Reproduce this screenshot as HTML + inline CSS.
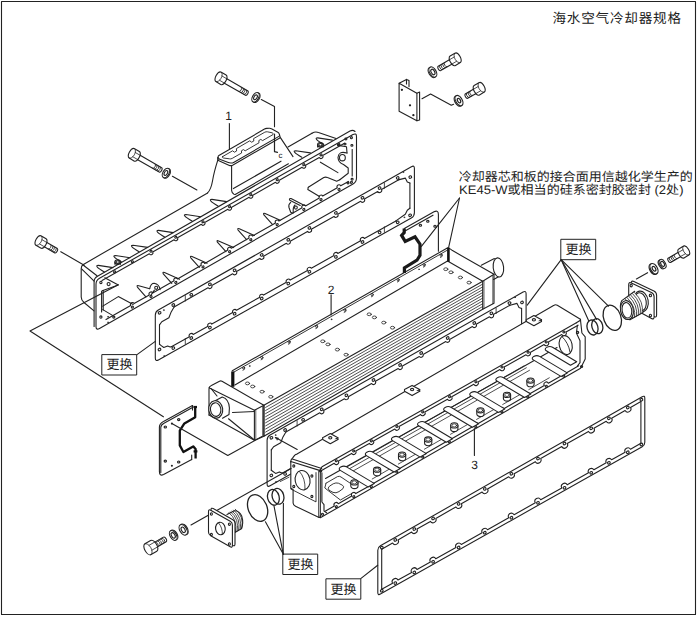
<!DOCTYPE html>
<html lang="zh"><head><meta charset="utf-8"><title>海水空气冷却器规格</title>
<style>
html,body{margin:0;padding:0;background:#fff}
svg{display:block}
text{font-family:"Liberation Sans","Noto Sans CJK SC",sans-serif;fill:#222;stroke:none;text-rendering:geometricPrecision}
</style></head><body>
<svg width="697" height="618" viewBox="0 0 697 618">
<rect width="697" height="618" fill="#fff"/>
<g fill="none" stroke="#222" stroke-width="1.1" stroke-linecap="round" stroke-linejoin="round">
<rect x="1.5" y="1.5" width="694" height="613" stroke-width="1.1"/>
<path d="M377.8 550.3Q377.8 547.3 380.4 545.8L642.2 396.7Q644.8 395.2 644.8 398.2L644.8 442.2Q644.8 445.2 642.2 446.7L380.4 594.1Q377.8 595.6 377.8 592.6Z"/>
<path d="M381.7 549.2L392.6 543A3.1 3.1 0 0 0 398 539.9L411.6 532.1A3.1 3.1 0 0 0 417 529.1L430.4 521.4A3.1 3.1 0 0 0 435.8 518.4L455.9 506.9A3.1 3.1 0 0 0 461.3 503.8L482.1 492A3.1 3.1 0 0 0 487.5 488.9L508.7 476.8A3.1 3.1 0 0 0 514.1 473.8L535.3 461.7A3.1 3.1 0 0 0 540.7 458.6L561.8 446.6A3.1 3.1 0 0 0 567.2 443.5L588.5 431.4A3.1 3.1 0 0 0 593.9 428.3L606.2 421.3A3.1 3.1 0 0 0 611.6 418.2L625.1 410.5A3.1 3.1 0 0 0 630.5 407.4L640.9 401.5"/>
<path d="M381.7 589.3L392.6 583.2A3.1 3.1 0 0 1 398 580.1L411.6 572.5A3.1 3.1 0 0 1 417 569.4L430.4 561.9A3.1 3.1 0 0 1 435.8 558.8L455.9 547.5A3.1 3.1 0 0 1 461.3 544.5L482.1 532.7A3.1 3.1 0 0 1 487.5 529.7L508.7 517.8A3.1 3.1 0 0 1 514.1 514.7L535.3 502.8A3.1 3.1 0 0 1 540.7 499.7L561.8 487.9A3.1 3.1 0 0 1 567.2 484.8L588.5 472.8A3.1 3.1 0 0 1 593.9 469.8L606.2 462.8A3.1 3.1 0 0 1 611.6 459.8L625.1 452.2A3.1 3.1 0 0 1 630.5 449.2L640.9 443.3"/>
<path d="M381.7 549.2L381.7 589.3"/>
<path d="M640.9 401.5L640.9 443.3"/>
<ellipse cx="381.8" cy="547.6" rx="1.4" ry="1.2" transform="rotate(-30 381.8 547.6)"/>
<ellipse cx="395.3" cy="539.9" rx="1.4" ry="1.2" transform="rotate(-30 395.3 539.9)"/>
<ellipse cx="414.3" cy="529.1" rx="1.4" ry="1.2" transform="rotate(-30 414.3 529.1)"/>
<ellipse cx="433.1" cy="518.4" rx="1.4" ry="1.2" transform="rotate(-30 433.1 518.4)"/>
<ellipse cx="458.6" cy="503.9" rx="1.4" ry="1.2" transform="rotate(-30 458.6 503.9)"/>
<ellipse cx="484.8" cy="488.9" rx="1.4" ry="1.2" transform="rotate(-30 484.8 488.9)"/>
<ellipse cx="511.4" cy="473.8" rx="1.4" ry="1.2" transform="rotate(-30 511.4 473.8)"/>
<ellipse cx="538" cy="458.6" rx="1.4" ry="1.2" transform="rotate(-30 538 458.6)"/>
<ellipse cx="564.5" cy="443.5" rx="1.4" ry="1.2" transform="rotate(-30 564.5 443.5)"/>
<ellipse cx="591.2" cy="428.3" rx="1.4" ry="1.2" transform="rotate(-30 591.2 428.3)"/>
<ellipse cx="608.9" cy="418.3" rx="1.4" ry="1.2" transform="rotate(-30 608.9 418.3)"/>
<ellipse cx="627.8" cy="407.5" rx="1.4" ry="1.2" transform="rotate(-30 627.8 407.5)"/>
<ellipse cx="641.4" cy="399.7" rx="1.4" ry="1.2" transform="rotate(-30 641.4 399.7)"/>
<ellipse cx="381.8" cy="590.7" rx="1.4" ry="1.2" transform="rotate(-30 381.8 590.7)"/>
<ellipse cx="395.3" cy="583.1" rx="1.4" ry="1.2" transform="rotate(-30 395.3 583.1)"/>
<ellipse cx="414.3" cy="572.4" rx="1.4" ry="1.2" transform="rotate(-30 414.3 572.4)"/>
<ellipse cx="433.1" cy="561.8" rx="1.4" ry="1.2" transform="rotate(-30 433.1 561.8)"/>
<ellipse cx="458.6" cy="547.5" rx="1.4" ry="1.2" transform="rotate(-30 458.6 547.5)"/>
<ellipse cx="484.8" cy="532.7" rx="1.4" ry="1.2" transform="rotate(-30 484.8 532.7)"/>
<ellipse cx="511.4" cy="517.7" rx="1.4" ry="1.2" transform="rotate(-30 511.4 517.7)"/>
<ellipse cx="538" cy="502.8" rx="1.4" ry="1.2" transform="rotate(-30 538 502.8)"/>
<ellipse cx="564.5" cy="487.8" rx="1.4" ry="1.2" transform="rotate(-30 564.5 487.8)"/>
<ellipse cx="591.2" cy="472.8" rx="1.4" ry="1.2" transform="rotate(-30 591.2 472.8)"/>
<ellipse cx="608.9" cy="462.8" rx="1.4" ry="1.2" transform="rotate(-30 608.9 462.8)"/>
<ellipse cx="627.8" cy="452.2" rx="1.4" ry="1.2" transform="rotate(-30 627.8 452.2)"/>
<ellipse cx="641.4" cy="444.5" rx="1.4" ry="1.2" transform="rotate(-30 641.4 444.5)"/>
<path d="M360.7 578.6L377.7 565.3"/>
<rect x="561.2" y="239.3" width="34.5" height="20.4" stroke-width="1" fill="#fff"/>
<rect x="102.2" y="354.6" width="34.5" height="20.4" stroke-width="1" fill="#fff"/>
<rect x="283.2" y="554.1" width="34.5" height="20.4" stroke-width="1" fill="#fff"/>
<rect x="326.3" y="578.8" width="34.5" height="20.4" stroke-width="1" fill="#fff"/>
<path d="M155.3 315.3Q155.3 311.8 158.3 310.1L411.4 166.7Q414.4 165 414.4 168.5L414.4 212.8Q414.4 216.3 411.3 218L158.4 359.9Q155.3 361.6 155.3 358.1Z"/>
<path d="M174.1 306.9L208 287.7A2.2 2.2 0 0 0 211.8 285.6L232.7 273.8A2.2 2.2 0 0 0 236.5 271.6L259.8 258.4A2.2 2.2 0 0 0 263.6 256.2L286.4 243.3A2.2 2.2 0 0 0 290.2 241.2L307.5 231.4A2.2 2.2 0 0 0 311.3 229.2L334 216.4A2.2 2.2 0 0 0 337.8 214.2L360.6 201.3A2.2 2.2 0 0 0 364.4 199.1L377.7 191.6A2.2 2.2 0 0 0 381.5 189.4L398.3 179.9"/>
<path d="M171.8 346.5L189.4 336.7A2.2 2.2 0 0 1 193.2 334.5L208 326.3A2.2 2.2 0 0 1 211.8 324.1L232.7 312.4A2.2 2.2 0 0 1 236.5 310.3L259.8 297.2A2.2 2.2 0 0 1 263.6 295.1L286.4 282.3A2.2 2.2 0 0 1 290.2 280.1L307.5 270.5A2.2 2.2 0 0 1 311.3 268.3L334 255.6A2.2 2.2 0 0 1 337.8 253.4L360.6 240.7A2.2 2.2 0 0 1 364.4 238.5L395.9 220.9"/>
<path d="M159.5 324.9L161.8 321.7L168.9 317.8L170.9 312.6L174.1 306.9"/>
<path d="M159.5 344.3L161.2 345.6L163.8 347.5L167.6 346L170.2 347.1L171.8 346.5"/>
<path d="M159.5 324.9L159.5 344.3"/>
<path d="M398.3 179.9L405.3 178.1L407.3 182.1L409.9 183.1"/>
<path d="M409.9 208.2L407.3 210.2L405.3 214.3L395.9 220.9"/>
<path d="M409.9 183.1L409.9 208.2"/>
<path d="M185.3 295.6L185.3 301.1" stroke-width="0.8"/>
<path d="M185.3 338.5L185.3 344" stroke-width="0.8"/>
<path d="M384.4 182.8L384.4 188.3" stroke-width="0.8"/>
<path d="M384.4 226.8L384.4 232.3" stroke-width="0.8"/>
<ellipse cx="159.6" cy="312.8" rx="1.4" ry="1.2" transform="rotate(-30 159.6 312.8)"/>
<ellipse cx="173.3" cy="305" rx="1.4" ry="1.2" transform="rotate(-30 173.3 305)"/>
<ellipse cx="191.3" cy="294.8" rx="1.4" ry="1.2" transform="rotate(-30 191.3 294.8)"/>
<ellipse cx="209.9" cy="284.3" rx="1.4" ry="1.2" transform="rotate(-30 209.9 284.3)"/>
<ellipse cx="234.6" cy="270.3" rx="1.4" ry="1.2" transform="rotate(-30 234.6 270.3)"/>
<ellipse cx="261.7" cy="254.9" rx="1.4" ry="1.2" transform="rotate(-30 261.7 254.9)"/>
<ellipse cx="288.3" cy="239.8" rx="1.4" ry="1.2" transform="rotate(-30 288.3 239.8)"/>
<ellipse cx="309.4" cy="227.9" rx="1.4" ry="1.2" transform="rotate(-30 309.4 227.9)"/>
<ellipse cx="335.9" cy="212.9" rx="1.4" ry="1.2" transform="rotate(-30 335.9 212.9)"/>
<ellipse cx="362.5" cy="197.8" rx="1.4" ry="1.2" transform="rotate(-30 362.5 197.8)"/>
<ellipse cx="379.6" cy="188.1" rx="1.4" ry="1.2" transform="rotate(-30 379.6 188.1)"/>
<ellipse cx="397.7" cy="177.9" rx="1.4" ry="1.2" transform="rotate(-30 397.7 177.9)"/>
<ellipse cx="410.3" cy="177.1" rx="1.4" ry="1.2" transform="rotate(-30 410.3 177.1)"/>
<ellipse cx="159.5" cy="349.5" rx="1.4" ry="1.2" transform="rotate(-30 159.5 349.5)"/>
<ellipse cx="173.3" cy="348.1" rx="1.4" ry="1.2" transform="rotate(-30 173.3 348.1)"/>
<ellipse cx="191.3" cy="338" rx="1.4" ry="1.2" transform="rotate(-30 191.3 338)"/>
<ellipse cx="209.9" cy="327.6" rx="1.4" ry="1.2" transform="rotate(-30 209.9 327.6)"/>
<ellipse cx="234.6" cy="313.7" rx="1.4" ry="1.2" transform="rotate(-30 234.6 313.7)"/>
<ellipse cx="261.7" cy="298.5" rx="1.4" ry="1.2" transform="rotate(-30 261.7 298.5)"/>
<ellipse cx="288.3" cy="283.6" rx="1.4" ry="1.2" transform="rotate(-30 288.3 283.6)"/>
<ellipse cx="309.4" cy="271.8" rx="1.4" ry="1.2" transform="rotate(-30 309.4 271.8)"/>
<ellipse cx="335.9" cy="256.9" rx="1.4" ry="1.2" transform="rotate(-30 335.9 256.9)"/>
<ellipse cx="362.5" cy="242" rx="1.4" ry="1.2" transform="rotate(-30 362.5 242)"/>
<ellipse cx="379.6" cy="232.4" rx="1.4" ry="1.2" transform="rotate(-30 379.6 232.4)"/>
<ellipse cx="397.7" cy="222.3" rx="1.4" ry="1.2" transform="rotate(-30 397.7 222.3)"/>
<ellipse cx="410.1" cy="215.3" rx="1.4" ry="1.2" transform="rotate(-30 410.1 215.3)"/>
<ellipse cx="163.8" cy="310.1" rx="0.5" ry="0.5" stroke-width="0.5" fill="#222"/>
<ellipse cx="164.1" cy="356" rx="0.5" ry="0.5" stroke-width="0.5" fill="#222"/>
<ellipse cx="403.3" cy="172.1" rx="0.5" ry="0.5" stroke-width="0.5" fill="#222"/>
<ellipse cx="404.3" cy="217.3" rx="0.5" ry="0.5" stroke-width="0.5" fill="#222"/>
<path d="M137 354.6L155.3 341.4"/>
<path d="M96 284.2Q96 280.2 99.5 278.2L353 134.6Q356.5 132.6 356.5 136.6L356.5 178Q356.5 182 353 184L99.5 328.5Q96 330.5 96 326.5Z"/>
<path d="M94.1 326.5L94.1 281.5Q94.1 278 97.5 276.2L350 130.9Q353 129.5 355 131.5"/>
<path d="M83.4 264.4L207.6 192.9"/>
<path d="M288 147L312 133.2"/>
<path d="M312 133.2Q315.5 131.3 318.5 132.6L336 138.6"/>
<path d="M83.4 264.4Q81.2 265.6 81.2 268.5L81.2 297Q81.2 300 84 302.5L94 310.8"/>
<path d="M83.4 265.2L97 275.8"/>
<path d="M81.6 268.8L94.1 281.2"/>
<path d="M102 280.6L149.3 253.8A1.9 1.9 0 0 0 152.7 251.9L174.1 239.7A1.9 1.9 0 0 0 177.5 237.8L201.3 224.3A1.9 1.9 0 0 0 204.7 222.4L227.9 209.2A1.9 1.9 0 0 0 231.3 207.4L249.1 197.2A1.9 1.9 0 0 0 252.5 195.4L275.5 182.3A1.9 1.9 0 0 0 278.9 180.4L302.1 167.2A1.9 1.9 0 0 0 305.5 165.3L319.3 157.5A1.9 1.9 0 0 0 322.7 155.6L344.5 143.2"/>
<ellipse cx="114.6" cy="271.9" rx="1.1" ry="0.9" transform="rotate(-30 114.6 271.9)"/>
<ellipse cx="132.4" cy="261.8" rx="1.1" ry="0.9" transform="rotate(-30 132.4 261.8)"/>
<ellipse cx="151" cy="251.2" rx="1.1" ry="0.9" transform="rotate(-30 151 251.2)"/>
<ellipse cx="175.8" cy="237.2" rx="1.1" ry="0.9" transform="rotate(-30 175.8 237.2)"/>
<ellipse cx="203" cy="221.8" rx="1.1" ry="0.9" transform="rotate(-30 203 221.8)"/>
<ellipse cx="229.6" cy="206.7" rx="1.1" ry="0.9" transform="rotate(-30 229.6 206.7)"/>
<ellipse cx="250.8" cy="194.7" rx="1.1" ry="0.9" transform="rotate(-30 250.8 194.7)"/>
<ellipse cx="277.2" cy="179.7" rx="1.1" ry="0.9" transform="rotate(-30 277.2 179.7)"/>
<ellipse cx="303.8" cy="164.7" rx="1.1" ry="0.9" transform="rotate(-30 303.8 164.7)"/>
<ellipse cx="321" cy="154.9" rx="1.1" ry="0.9" transform="rotate(-30 321 154.9)"/>
<ellipse cx="339" cy="144.7" rx="1.1" ry="0.9" transform="rotate(-30 339 144.7)"/>
<ellipse cx="351.4" cy="137.7" rx="1.1" ry="0.9" transform="rotate(-30 351.4 137.7)"/>
<ellipse cx="100.9" cy="282.4" rx="1.1" ry="1.2"/>
<ellipse cx="108.6" cy="284.1" rx="1.5" ry="1.6"/>
<ellipse cx="100.9" cy="317.1" rx="1.1" ry="1.2"/>
<ellipse cx="113.8" cy="317.1" rx="1.1" ry="1"/>
<ellipse cx="108" cy="316.8" rx="0.5" ry="0.5" stroke-width="0.5" fill="#222"/>
<ellipse cx="108" cy="322.3" rx="0.5" ry="0.5" stroke-width="0.5" fill="#222"/>
<path d="M106 319.6L130.7 305.5A1.9 1.9 0 0 1 134.1 303.6L149.3 294.9A1.9 1.9 0 0 1 152.7 293L174.1 280.8A1.9 1.9 0 0 1 177.5 278.9L201.3 265.2A1.9 1.9 0 0 1 204.7 263.4L227.9 250.1A1.9 1.9 0 0 1 231.3 248.2L249.1 238A1.9 1.9 0 0 1 252.5 236.1L275.5 222.9A1.9 1.9 0 0 1 278.9 221.1L302.1 207.8A1.9 1.9 0 0 1 305.5 205.9L319.3 198A1.9 1.9 0 0 1 322.7 196.1L337.3 187.7A1.9 1.9 0 0 1 340.7 185.8L348.5 181.4"/>
<ellipse cx="132.4" cy="307.1" rx="1.1" ry="0.9" transform="rotate(-30 132.4 307.1)"/>
<ellipse cx="151" cy="296.5" rx="1.1" ry="0.9" transform="rotate(-30 151 296.5)"/>
<ellipse cx="175.8" cy="282.4" rx="1.1" ry="0.9" transform="rotate(-30 175.8 282.4)"/>
<ellipse cx="203" cy="266.9" rx="1.1" ry="0.9" transform="rotate(-30 203 266.9)"/>
<ellipse cx="229.6" cy="251.7" rx="1.1" ry="0.9" transform="rotate(-30 229.6 251.7)"/>
<ellipse cx="250.8" cy="239.7" rx="1.1" ry="0.9" transform="rotate(-30 250.8 239.7)"/>
<ellipse cx="277.2" cy="224.6" rx="1.1" ry="0.9" transform="rotate(-30 277.2 224.6)"/>
<ellipse cx="303.8" cy="209.4" rx="1.1" ry="0.9" transform="rotate(-30 303.8 209.4)"/>
<ellipse cx="321" cy="199.6" rx="1.1" ry="0.9" transform="rotate(-30 321 199.6)"/>
<ellipse cx="339" cy="189.4" rx="1.1" ry="0.9" transform="rotate(-30 339 189.4)"/>
<ellipse cx="351.4" cy="182.3" rx="1.1" ry="0.9" transform="rotate(-30 351.4 182.3)"/>
<path d="M101.6 291.4L101.6 312"/>
<path d="M103.2 290.6L103.2 310"/>
<path d="M352.2 149.5L352.2 176"/>
<path d="M104.8 277.8L118.3 285L102.2 290.8"/>
<path d="M102.8 306.1L118.3 296.6L133.2 304.4"/>
<path d="M102.8 309.6L112.5 315.4"/>
<path d="M104.4 271.9Q93.3 265.5 98.3 265.4L113 267.6"/>
<path d="M121.5 262Q110.4 255.6 115.4 255.5L130.1 257.7"/>
<path d="M139.1 251.7Q128 245.3 133 245.2L147.7 247.4"/>
<path d="M164.6 236.9Q153.5 230.5 158.5 230.4L173.2 232.6"/>
<path d="M192 221Q180.9 214.6 185.9 214.5L200.6 216.7"/>
<path d="M218 205.9Q206.9 199.5 211.9 199.4L226.6 201.6"/>
<path d="M301.8 157.2Q290.7 150.8 295.7 150.7L310.4 152.9"/>
<path d="M323.8 144.4Q312.7 138 317.7 137.9L332.4 140.1"/>
<path d="M171.8 283.4L163.3 273.9Q162.2 271.6 164.5 272.6L179.6 279.3"/>
<path d="M199.3 267.3L190.8 257.8Q189.7 255.5 192 256.5L207.1 263.2"/>
<path d="M225.9 251.7L217.4 242.2Q216.3 239.9 218.6 240.9L233.7 247.6"/>
<path d="M246.6 239.6L238.1 230.1Q237 227.8 239.3 228.8L254.4 235.5"/>
<path d="M272.4 224.4L263.9 214.9Q262.8 212.6 265.1 213.6L280.2 220.3"/>
<path d="M145.9 296.9L137.4 287.1Q136.3 285.1 138.8 285.8L149.7 288.7"/>
<path d="M149.7 288.7Q150.8 283.3 154.2 283.3Q159.2 284.1 160.1 289.7"/>
<path d="M154.4 290.1L150.6 295.6"/>
<ellipse cx="156.2" cy="287.8" rx="1.5" ry="1.6"/>
<path d="M300.2 205.4L289.8 200.2Q288.6 198.1 291 198.6L304.5 205.4"/>
<path d="M290.7 202.4Q288.2 204.5 289 207.5L290.7 212.3L292.8 213.2"/>
<path d="M295 205Q292.6 207.5 293.3 212.7"/>
<ellipse cx="295.9" cy="207.6" rx="1.4" ry="1.6"/>
<ellipse cx="117.7" cy="262.1" rx="2.8" ry="2.3"/>
<ellipse cx="117.7" cy="262.1" rx="1.7" ry="1.3"/>
<path d="M114.9 262.1L114.9 264.3"/>
<path d="M120.5 262.1L120.5 264.3"/>
<ellipse cx="320.4" cy="144.8" rx="2.8" ry="2.3"/>
<ellipse cx="320.4" cy="144.8" rx="1.7" ry="1.3"/>
<path d="M317.6 144.8L317.6 147"/>
<path d="M323.2 144.8L323.2 147"/>
<path d="M339.8 145.6L346.5 146.8L347 153"/>
<ellipse cx="342.4" cy="157.7" rx="2.9" ry="3.2"/>
<path d="M347 153Q338.5 150.5 338 157.5Q338.2 162.5 343.5 164.5L348.2 168L348.2 173.3L339.8 179.7"/>
<path d="M320.4 162.2L337.9 172.6"/>
<path d="M308.3 187.2L323.8 177.5Q325.5 176.6 327.5 177.6L336.7 181.2L339.8 179.7"/>
<path d="M308.3 187.2L307.8 189.5L319.5 196.5"/>
<ellipse cx="345.9" cy="139" rx="1" ry="0.9"/>
<ellipse cx="338.5" cy="145" rx="1" ry="0.9"/>
<ellipse cx="345" cy="144.1" rx="1" ry="0.9"/>
<ellipse cx="351.9" cy="145.4" rx="1" ry="0.9"/>
<ellipse cx="352.1" cy="179.3" rx="1" ry="0.9"/>
<ellipse cx="348" cy="183" rx="1" ry="0.9"/>
<path d="M218.2 157.3Q217.9 156.1 218.9 155.5L264.5 129.1Q265.5 128.5 266.7 128.4L269.3 128.3Q270.5 128.2 271.5 128.8L277.8 132.2Q278.8 132.8 279.2 133.9L279.5 134.7Q279.9 135.8 278.9 136.4L233.6 162.4Q232.6 163 231.4 163L230.6 163Q229.4 163 228.3 162.6L219.7 159.3Q218.6 158.9 218.3 157.7Z"/>
<path d="M222.6 156.6L232.6 150.8L234.4 152.2L236.6 151L236.4 148.6L249.8 140.8L251.6 142.2L253.8 141L253.6 138.6L264.8 132.2Q266 131.6 267.4 131.8L272.2 132.8Q273.8 133.4 273 134.6L262.6 140.6L260.8 139.4L258.8 140.6L259 142.8L245.2 150.8L243.4 149.6L241.4 150.8L241.6 153L232.2 158.4Q230.8 159.2 229.4 158.8L223.4 158Q221.6 157.4 222.6 156.6Z" stroke-width="0.9"/>
<path d="M217.6 157.6L217.8 160.2L229.4 165.4Q231 166 232.6 165.2L280.2 137.8L279.9 135.8"/>
<path d="M218.6 158.9L218.6 160.6" stroke-width="0.7"/>
<path d="M217.8 160.2Q214 172 212.5 181Q211 189.5 207.6 192.9"/>
<path d="M231.6 165.8L231.6 190.6Q231.7 193 234 194.2L235.2 194.6L288.4 163.8"/>
<path d="M233.4 188.6L281 161.2"/>
<path d="M280.4 137.6L293 156.6"/>
<path d="M229.4 123.5L229.4 149.3"/>
<path d="M224.7 77.5L248 91A1.3 2.5 30 0 1 245.5 95.3L222.2 81.9" fill="#fff"/>
<path d="M246.4 90A1.3 2.5 30 0 1 243.9 94.4" stroke-width="0.9"/>
<path d="M244.7 89.1A1.3 2.5 30 0 1 242.2 93.4" stroke-width="0.9"/>
<path d="M243.1 88.1A1.3 2.5 30 0 1 240.6 92.5" stroke-width="0.9"/>
<path d="M241.4 87.2A1.3 2.5 30 0 1 238.9 91.5" stroke-width="0.9"/>
<path d="M221.3 72.2L226.1 75A2.8 5.4 30 0 1 220.7 84.4L215.9 81.6A2.8 5.4 30 0 1 221.3 72.2Z" fill="#fff"/>
<path d="M221.3 72.2A2.8 5.4 30 0 1 215.9 81.6" stroke-width="0.8"/>
<path d="M222 76L226.8 78.8" stroke-width="0.8"/>
<path d="M219.6 80.3L224.4 83.1" stroke-width="0.8"/>
<ellipse cx="256.4" cy="97.8" rx="3" ry="5.2" fill="#fff" transform="rotate(30 256.4 97.8)"/>
<ellipse cx="255.5" cy="97.3" rx="3" ry="5.2" fill="#fff" transform="rotate(30 255.5 97.3)"/>
<ellipse cx="255.5" cy="97.3" rx="1.5" ry="2.6" transform="rotate(30 255.5 97.3)"/>
<path d="M261.3 99.6L274.5 106.5L274.5 126.8"/>
<path d="M274.5 134L274.5 151.7L277.5 152.4" stroke-width="1.2"/>
<path d="M138 154L161.7 167.7A1.3 2.5 30 0 1 159.2 172.1L135.5 158.4" fill="#fff"/>
<path d="M160.1 166.8A1.3 2.5 30 0 1 157.6 171.1" stroke-width="0.9"/>
<path d="M158.4 165.8A1.3 2.5 30 0 1 155.9 170.2" stroke-width="0.9"/>
<path d="M156.8 164.9A1.3 2.5 30 0 1 154.3 169.2" stroke-width="0.9"/>
<path d="M155.1 163.9A1.3 2.5 30 0 1 152.6 168.3" stroke-width="0.9"/>
<path d="M134.6 148.7L139.4 151.5A2.8 5.4 30 0 1 134 160.9L129.2 158.1A2.8 5.4 30 0 1 134.6 148.7Z" fill="#fff"/>
<path d="M134.6 148.7A2.8 5.4 30 0 1 129.2 158.1" stroke-width="0.8"/>
<path d="M135.3 152.5L140.1 155.3" stroke-width="0.8"/>
<path d="M132.9 156.8L137.7 159.6" stroke-width="0.8"/>
<ellipse cx="166.8" cy="173.5" rx="3" ry="5.2" fill="#fff" transform="rotate(30 166.8 173.5)"/>
<ellipse cx="165.9" cy="173" rx="3" ry="5.2" fill="#fff" transform="rotate(30 165.9 173)"/>
<ellipse cx="165.9" cy="173" rx="1.5" ry="2.6" transform="rotate(30 165.9 173)"/>
<path d="M172.4 176.3L196.9 190"/>
<path d="M44.7 241.2L57.4 248.6A1.3 2.5 30 0 1 54.9 252.9L42.2 245.6" fill="#fff"/>
<path d="M55.8 247.6A1.3 2.5 30 0 1 53.3 252" stroke-width="0.9"/>
<path d="M54.1 246.7A1.3 2.5 30 0 1 51.6 251" stroke-width="0.9"/>
<path d="M52.5 245.7A1.3 2.5 30 0 1 50 250.1" stroke-width="0.9"/>
<path d="M50.8 244.8A1.3 2.5 30 0 1 48.3 249.1" stroke-width="0.9"/>
<path d="M41.3 235.9L46.1 238.7A2.8 5.4 30 0 1 40.7 248.1L35.9 245.3A2.8 5.4 30 0 1 41.3 235.9Z" fill="#fff"/>
<path d="M41.3 235.9A2.8 5.4 30 0 1 35.9 245.3" stroke-width="0.8"/>
<path d="M42 239.7L46.8 242.5" stroke-width="0.8"/>
<path d="M39.6 244L44.4 246.8" stroke-width="0.8"/>
<path d="M60.8 251.7L84.2 265.2"/>
<path d="M454 62.9L440.7 70.6A1.3 2.5 150 0 1 438.2 66.2L451.5 58.5" fill="#fff"/>
<path d="M442.3 69.6A1.3 2.5 150 0 1 439.8 65.3" stroke-width="0.9"/>
<path d="M444 68.7A1.3 2.5 150 0 1 441.5 64.3" stroke-width="0.9"/>
<path d="M445.6 67.7A1.3 2.5 150 0 1 443.1 63.4" stroke-width="0.9"/>
<path d="M447.2 66.8A1.3 2.5 150 0 1 444.7 62.4" stroke-width="0.9"/>
<path d="M460.3 62.6L455.5 65.4A2.8 5.4 150 0 1 450.1 56L454.9 53.2A2.8 5.4 150 0 1 460.3 62.6Z" fill="#fff"/>
<path d="M460.3 62.6A2.8 5.4 150 0 1 454.9 53.2" stroke-width="0.8"/>
<path d="M456.6 61.3L451.8 64.1" stroke-width="0.8"/>
<path d="M454.2 57L449.4 59.8" stroke-width="0.8"/>
<ellipse cx="432" cy="72.5" rx="3.2" ry="5.6" fill="#fff" transform="rotate(150 432 72.5)"/>
<ellipse cx="432.9" cy="72" rx="3.2" ry="5.6" fill="#fff" transform="rotate(150 432.9 72)"/>
<ellipse cx="432.9" cy="72" rx="1.7" ry="3" transform="rotate(150 432.9 72)"/>
<path d="M478 92.4L467.7 98.3A1.3 2.5 150 0 1 465.2 94L475.5 88" fill="#fff"/>
<path d="M469.3 97.4A1.3 2.5 150 0 1 466.8 93" stroke-width="0.9"/>
<path d="M471 96.4A1.3 2.5 150 0 1 468.5 92.1" stroke-width="0.9"/>
<path d="M472.6 95.5A1.3 2.5 150 0 1 470.1 91.1" stroke-width="0.9"/>
<path d="M484.3 92.1L479.5 94.9A2.8 5.4 150 0 1 474.1 85.5L478.9 82.7A2.8 5.4 150 0 1 484.3 92.1Z" fill="#fff"/>
<path d="M484.3 92.1A2.8 5.4 150 0 1 478.9 82.7" stroke-width="0.8"/>
<path d="M480.6 90.8L475.8 93.6" stroke-width="0.8"/>
<path d="M478.2 86.5L473.4 89.3" stroke-width="0.8"/>
<ellipse cx="458.1" cy="101.1" rx="3.2" ry="5.6" stroke-width="1.2" fill="#fff" transform="rotate(150 458.1 101.1)"/>
<ellipse cx="459" cy="100.6" rx="3.2" ry="5.6" stroke-width="1.2" fill="#fff" transform="rotate(150 459 100.6)"/>
<ellipse cx="459" cy="100.6" rx="1.4" ry="2.4" stroke-width="1.2" transform="rotate(150 459 100.6)"/>
<path d="M152.4 543.6L163.5 537.1A1.4 2.7 -30 0 1 166.2 541.8L155.1 548.2" fill="#fff"/>
<path d="M161.9 538.1A1.4 2.7 -30 0 1 164.6 542.7" stroke-width="0.9"/>
<path d="M160.2 539A1.4 2.7 -30 0 1 162.9 543.7" stroke-width="0.9"/>
<path d="M158.6 540A1.4 2.7 -30 0 1 161.3 544.6" stroke-width="0.9"/>
<path d="M157 540.9A1.4 2.7 -30 0 1 159.7 545.6" stroke-width="0.9"/>
<path d="M155.3 541.9A1.4 2.7 -30 0 1 158 546.5" stroke-width="0.9"/>
<path d="M144.9 543.8L150.6 540.5A3.2 6.2 -30 0 1 156.8 551.3L151.1 554.6A3.2 6.2 -30 0 1 144.9 543.8Z" fill="#fff"/>
<path d="M144.9 543.8A3.2 6.2 -30 0 1 151.1 554.6" stroke-width="0.8"/>
<path d="M149.1 545.3L154.8 542" stroke-width="0.8"/>
<path d="M151.9 550.2L157.6 546.9" stroke-width="0.8"/>
<ellipse cx="174.1" cy="534.9" rx="3.1" ry="5.4" fill="#fff" transform="rotate(-30 174.1 534.9)"/>
<ellipse cx="173.2" cy="535.4" rx="3.1" ry="5.4" fill="#fff" transform="rotate(-30 173.2 535.4)"/>
<ellipse cx="173.2" cy="535.4" rx="1.7" ry="3" transform="rotate(-30 173.2 535.4)"/>
<ellipse cx="184.1" cy="529.3" rx="3.4" ry="5.8" stroke-width="1.1" fill="#fff" transform="rotate(-30 184.1 529.3)"/>
<ellipse cx="183.2" cy="529.8" rx="3.4" ry="5.8" stroke-width="1.1" fill="#fff" transform="rotate(-30 183.2 529.8)"/>
<ellipse cx="183.2" cy="529.8" rx="1.7" ry="3" stroke-width="1.1" transform="rotate(-30 183.2 529.8)"/>
<path d="M191 524.9L210.5 513.9"/>
<path d="M682.6 255.6L670.6 262.5A1.3 2.5 150 0 1 668.1 258.2L680.1 251.2" fill="#fff"/>
<path d="M672.2 261.6A1.3 2.5 150 0 1 669.7 257.2" stroke-width="0.9"/>
<path d="M673.9 260.6A1.3 2.5 150 0 1 671.4 256.3" stroke-width="0.9"/>
<path d="M675.5 259.7A1.3 2.5 150 0 1 673 255.3" stroke-width="0.9"/>
<path d="M677.1 258.7A1.3 2.5 150 0 1 674.6 254.4" stroke-width="0.9"/>
<path d="M688.8 255.1L684 257.9A2.7 5.2 150 0 1 678.8 248.9L683.6 246.1A2.7 5.2 150 0 1 688.8 255.1Z" fill="#fff"/>
<path d="M688.8 255.1A2.7 5.2 150 0 1 683.6 246.1" stroke-width="0.8"/>
<path d="M685.3 253.8L680.4 256.6" stroke-width="0.8"/>
<path d="M682.9 249.8L678.1 252.6" stroke-width="0.8"/>
<ellipse cx="661.7" cy="264.4" rx="2.8" ry="4.9" fill="#fff" transform="rotate(150 661.7 264.4)"/>
<ellipse cx="662.6" cy="263.9" rx="2.8" ry="4.9" fill="#fff" transform="rotate(150 662.6 263.9)"/>
<ellipse cx="662.6" cy="263.9" rx="1.6" ry="2.7" transform="rotate(150 662.6 263.9)"/>
<ellipse cx="653.1" cy="269.2" rx="3.3" ry="5.7" stroke-width="1.2" fill="#fff" transform="rotate(150 653.1 269.2)"/>
<ellipse cx="654" cy="268.7" rx="3.3" ry="5.7" stroke-width="1.2" fill="#fff" transform="rotate(150 654 268.7)"/>
<ellipse cx="654" cy="268.7" rx="1.5" ry="2.6" stroke-width="1.2" transform="rotate(150 654 268.7)"/>
<path d="M647.6 272.7L636.4 279"/>
<path d="M267.1 440.3Q267.1 436.8 270.1 435.1L523.1 292Q526.1 290.3 526.1 293.8L526.1 337.5Q526.1 341 523.1 342.7L270.1 485.8Q267.1 487.5 267.1 484Z"/>
<path d="M285.9 432L319.8 412.8A2.2 2.2 0 0 0 323.6 410.6L344.5 398.8A2.2 2.2 0 0 0 348.3 396.7L371.6 383.5A2.2 2.2 0 0 0 375.4 381.3L398.2 368.5A2.2 2.2 0 0 0 402 366.3L419.3 356.5A2.2 2.2 0 0 0 423.1 354.4L445.8 341.5A2.2 2.2 0 0 0 449.6 339.4L472.4 326.5A2.2 2.2 0 0 0 476.2 324.3L489.5 316.8A2.2 2.2 0 0 0 493.3 314.6L510 305.2"/>
<path d="M283.6 472.4L301.2 462.4A2.2 2.2 0 0 1 305 460.3L319.8 451.9A2.2 2.2 0 0 1 323.6 449.7L344.5 437.9A2.2 2.2 0 0 1 348.3 435.8L371.6 422.6A2.2 2.2 0 0 1 375.4 420.4L398.2 407.6A2.2 2.2 0 0 1 402 405.4L419.3 395.6A2.2 2.2 0 0 1 423.1 393.5L445.8 380.6A2.2 2.2 0 0 1 449.6 378.5L472.4 365.6A2.2 2.2 0 0 1 476.2 363.4L507.6 345.7"/>
<path d="M271.3 449.9L273.6 446.7L280.7 442.8L282.7 437.6L285.9 432"/>
<path d="M271.3 470.2L273 471.5L275.6 473.4L279.4 471.9L282 473L283.6 472.4"/>
<path d="M271.3 449.9L271.3 470.2"/>
<path d="M510 305.2L517 303.4L519 307.4L521.6 308.4"/>
<path d="M521.6 332.9L519 334.9L517 339L507.6 345.7"/>
<path d="M521.6 308.4L521.6 332.9"/>
<path d="M297.1 420.6L297.1 426.1" stroke-width="0.8"/>
<path d="M297.1 464.2L297.1 469.7" stroke-width="0.8"/>
<path d="M496.1 308.1L496.1 313.6" stroke-width="0.8"/>
<path d="M496.1 351.7L496.1 357.2" stroke-width="0.8"/>
<ellipse cx="271.4" cy="437.8" rx="1.4" ry="1.2" transform="rotate(-30 271.4 437.8)"/>
<ellipse cx="285.1" cy="430" rx="1.4" ry="1.2" transform="rotate(-30 285.1 430)"/>
<ellipse cx="303.1" cy="419.8" rx="1.4" ry="1.2" transform="rotate(-30 303.1 419.8)"/>
<ellipse cx="321.7" cy="409.3" rx="1.4" ry="1.2" transform="rotate(-30 321.7 409.3)"/>
<ellipse cx="346.4" cy="395.3" rx="1.4" ry="1.2" transform="rotate(-30 346.4 395.3)"/>
<ellipse cx="373.5" cy="380" rx="1.4" ry="1.2" transform="rotate(-30 373.5 380)"/>
<ellipse cx="400.1" cy="365" rx="1.4" ry="1.2" transform="rotate(-30 400.1 365)"/>
<ellipse cx="421.2" cy="353" rx="1.4" ry="1.2" transform="rotate(-30 421.2 353)"/>
<ellipse cx="447.7" cy="338" rx="1.4" ry="1.2" transform="rotate(-30 447.7 338)"/>
<ellipse cx="474.3" cy="323" rx="1.4" ry="1.2" transform="rotate(-30 474.3 323)"/>
<ellipse cx="491.4" cy="313.3" rx="1.4" ry="1.2" transform="rotate(-30 491.4 313.3)"/>
<ellipse cx="509.5" cy="303.1" rx="1.4" ry="1.2" transform="rotate(-30 509.5 303.1)"/>
<ellipse cx="522" cy="302.4" rx="1.4" ry="1.2" transform="rotate(-30 522 302.4)"/>
<ellipse cx="271.3" cy="475.4" rx="1.4" ry="1.2" transform="rotate(-30 271.3 475.4)"/>
<ellipse cx="285.1" cy="473.9" rx="1.4" ry="1.2" transform="rotate(-30 285.1 473.9)"/>
<ellipse cx="303.1" cy="463.7" rx="1.4" ry="1.2" transform="rotate(-30 303.1 463.7)"/>
<ellipse cx="321.7" cy="453.2" rx="1.4" ry="1.2" transform="rotate(-30 321.7 453.2)"/>
<ellipse cx="346.4" cy="439.2" rx="1.4" ry="1.2" transform="rotate(-30 346.4 439.2)"/>
<ellipse cx="373.5" cy="423.9" rx="1.4" ry="1.2" transform="rotate(-30 373.5 423.9)"/>
<ellipse cx="400.1" cy="408.9" rx="1.4" ry="1.2" transform="rotate(-30 400.1 408.9)"/>
<ellipse cx="421.2" cy="396.9" rx="1.4" ry="1.2" transform="rotate(-30 421.2 396.9)"/>
<ellipse cx="447.7" cy="381.9" rx="1.4" ry="1.2" transform="rotate(-30 447.7 381.9)"/>
<ellipse cx="474.3" cy="366.9" rx="1.4" ry="1.2" transform="rotate(-30 474.3 366.9)"/>
<ellipse cx="491.4" cy="357.2" rx="1.4" ry="1.2" transform="rotate(-30 491.4 357.2)"/>
<ellipse cx="509.5" cy="347" rx="1.4" ry="1.2" transform="rotate(-30 509.5 347)"/>
<ellipse cx="521.9" cy="340" rx="1.4" ry="1.2" transform="rotate(-30 521.9 340)"/>
<ellipse cx="275.6" cy="435.1" rx="0.5" ry="0.5" stroke-width="0.5" fill="#222"/>
<ellipse cx="275.9" cy="481.9" rx="0.5" ry="0.5" stroke-width="0.5" fill="#222"/>
<ellipse cx="515" cy="297.4" rx="0.5" ry="0.5" stroke-width="0.5" fill="#222"/>
<ellipse cx="516" cy="342" rx="0.5" ry="0.5" stroke-width="0.5" fill="#222"/>
<path d="M221.3 380.3L234.9 384.9L448.4 260.5L451.8 250.2L494 274.3L482.7 281.3L263.9 405.3Z" fill="#fff" stroke="none"/>
<path d="M234.9 384.9L448.4 260.5"/>
<path d="M263.9 405.3L482.7 281.3L482.7 309.3L263.9 436.2Z" fill="#fff"/>
<path d="M265.6 407.4L482.7 284.1" stroke-width="0.8"/>
<path d="M265.6 410.5L482.7 286.9" stroke-width="0.8"/>
<path d="M265.6 413.6L482.7 289.7" stroke-width="0.8"/>
<path d="M265.6 416.7L482.7 292.5" stroke-width="0.8"/>
<path d="M265.6 419.8L482.7 295.3" stroke-width="0.8"/>
<path d="M265.6 422.8L482.7 298.1" stroke-width="0.8"/>
<path d="M265.6 425.9L482.7 300.9" stroke-width="0.8"/>
<path d="M265.6 429L482.7 303.7" stroke-width="0.8"/>
<path d="M265.6 432.1L482.7 306.5" stroke-width="0.8"/>
<path d="M232.3 370.7L447.3 248"/>
<path d="M233.4 372.4L447.3 250.2" stroke-width="0.9"/>
<ellipse cx="243.5" cy="367.9" rx="1.1" ry="1" stroke-width="0.8" transform="rotate(-30 243.5 367.9)"/>
<path d="M244.9 368.1Q244.9 370.1 242.9 370.3" stroke-width="0.8"/>
<ellipse cx="261.7" cy="357.5" rx="1.1" ry="1" stroke-width="0.8" transform="rotate(-30 261.7 357.5)"/>
<path d="M263.1 357.7Q263.1 359.7 261.1 359.9" stroke-width="0.8"/>
<ellipse cx="289" cy="341.9" rx="1.1" ry="1" stroke-width="0.8" transform="rotate(-30 289 341.9)"/>
<path d="M290.4 342.1Q290.4 344.1 288.4 344.3" stroke-width="0.8"/>
<ellipse cx="316.4" cy="326.3" rx="1.1" ry="1" stroke-width="0.8" transform="rotate(-30 316.4 326.3)"/>
<path d="M317.8 326.5Q317.8 328.5 315.8 328.7" stroke-width="0.8"/>
<ellipse cx="344.8" cy="310.1" rx="1.1" ry="1" stroke-width="0.8" transform="rotate(-30 344.8 310.1)"/>
<path d="M346.2 310.3Q346.2 312.3 344.2 312.5" stroke-width="0.8"/>
<ellipse cx="372" cy="294.5" rx="1.1" ry="1" stroke-width="0.8" transform="rotate(-30 372 294.5)"/>
<path d="M373.4 294.7Q373.4 296.7 371.4 296.9" stroke-width="0.8"/>
<ellipse cx="398" cy="279.7" rx="1.1" ry="1" stroke-width="0.8" transform="rotate(-30 398 279.7)"/>
<path d="M399.4 279.9Q399.4 281.9 397.4 282.1" stroke-width="0.8"/>
<ellipse cx="424" cy="264.8" rx="1.1" ry="1" stroke-width="0.8" transform="rotate(-30 424 264.8)"/>
<path d="M425.4 265Q425.4 267 423.4 267.2" stroke-width="0.8"/>
<ellipse cx="441" cy="255.1" rx="1.1" ry="1" stroke-width="0.8" transform="rotate(-30 441 255.1)"/>
<path d="M442.4 255.3Q442.4 257.3 440.4 257.5" stroke-width="0.8"/>
<ellipse cx="249.7" cy="366" rx="0.5" ry="0.5" stroke-width="0.5" fill="#222"/>
<ellipse cx="331.5" cy="319.3" rx="0.5" ry="0.5" stroke-width="0.5" fill="#222"/>
<ellipse cx="419" cy="269.3" rx="0.5" ry="0.5" stroke-width="0.5" fill="#222"/>
<ellipse cx="247.5" cy="383.4" rx="2.1" ry="1.4" stroke-width="0.8"/>
<ellipse cx="252.7" cy="386.5" rx="2.1" ry="1.4" stroke-width="0.8"/>
<ellipse cx="262.1" cy="391.7" rx="2.1" ry="1.4" stroke-width="0.8"/>
<ellipse cx="270.8" cy="396.8" rx="2.1" ry="1.4" stroke-width="0.8"/>
<ellipse cx="322.8" cy="341.3" rx="2.1" ry="1.4" stroke-width="0.8"/>
<ellipse cx="328" cy="344.4" rx="2.1" ry="1.4" stroke-width="0.8"/>
<ellipse cx="337.4" cy="349.6" rx="2.1" ry="1.4" stroke-width="0.8"/>
<ellipse cx="346.1" cy="354.7" rx="2.1" ry="1.4" stroke-width="0.8"/>
<ellipse cx="369.2" cy="314.3" rx="2.1" ry="1.4" stroke-width="0.8"/>
<ellipse cx="374.4" cy="317.4" rx="2.1" ry="1.4" stroke-width="0.8"/>
<ellipse cx="383.8" cy="322.6" rx="2.1" ry="1.4" stroke-width="0.8"/>
<ellipse cx="392.5" cy="327.7" rx="2.1" ry="1.4" stroke-width="0.8"/>
<ellipse cx="445.8" cy="269.2" rx="2.1" ry="1.4" stroke-width="0.8"/>
<ellipse cx="451" cy="272.3" rx="2.1" ry="1.4" stroke-width="0.8"/>
<ellipse cx="460.4" cy="277.5" rx="2.1" ry="1.4" stroke-width="0.8"/>
<ellipse cx="469.1" cy="282.6" rx="2.1" ry="1.4" stroke-width="0.8"/>
<path d="M209 387.8L254.4 410.3L254.4 440.2L209 415"/>
<path d="M209 415L209 389Q209 386.5 211.4 385.6L219.5 381.2Q220.8 380.6 222 381.3L263.9 405.3L263.9 436.2L254.4 440.4"/>
<path d="M254.4 410.3L263.9 405.3"/>
<path d="M255.8 410.2L255.8 439.6" stroke-width="0.7"/>
<path d="M262.6 406.2L262.6 436.6" stroke-width="0.7"/>
<path d="M211 388.5L217 396"/>
<path d="M254.4 411.5L232.5 412.5"/>
<path d="M254.4 440L228.5 418.8"/>
<path d="M212 416.5L214 416"/>
<path d="M215.7 400.6L222.2 397Q229 399 229.4 408L229 414.5L222.5 418.2" fill="#fff"/>
<ellipse cx="215.7" cy="409.4" rx="7" ry="8.8" fill="#fff" transform="rotate(-8 215.7 409.4)"/>
<ellipse cx="215.7" cy="409.6" rx="5.2" ry="6.8" transform="rotate(-8 215.7 409.6)"/>
<path d="M482.7 309.3L494 303.3L494 274.4"/>
<path d="M484 281.2L484 308.6" stroke-width="0.7"/>
<path d="M492.8 275.6L492.8 303.6" stroke-width="0.7"/>
<path d="M448.4 261.5L482.7 281.3"/>
<path d="M447.3 248Q450.5 248.4 452.5 250.6L494 274.3L482.7 281.3"/>
<path d="M481.3 265.2L494.4 258.6"/>
<path d="M493.6 279.4L502.5 274.6"/>
<ellipse cx="498.4" cy="267.4" rx="5.2" ry="9.6" fill="#fff" transform="rotate(-6 498.4 267.4)"/>
<path d="M331.1 294.8L331.1 314.9"/>
<path d="M404.3 228.6L434 211.8Q438.4 209.6 438.4 214.5L438.4 251.2"/>
<path d="M405 231L433 215.2"/>
<ellipse cx="420.4" cy="225.3" rx="1.2" ry="1"/>
<ellipse cx="427.8" cy="221.3" rx="1.2" ry="1"/>
<ellipse cx="435" cy="226.3" rx="1.2" ry="1"/>
<path d="M404.2 228.4L404.2 232.6L401.6 235.4L405.2 241.4L415 236.8L420 244.2L420 255.2L417 260.2L404.4 267.8L404.4 273" stroke="#1a1a1a" stroke-width="3.2" stroke-linejoin="miter" stroke-linecap="butt"/>
<path d="M448.4 247.6L448.4 261.8" stroke="#111" stroke-width="2.6" stroke-linejoin="round" stroke-linecap="butt"/>
<path d="M459.5 198L436.5 227.2"/>
<path d="M436.5 227.2L421.4 246.4"/>
<path d="M459.5 198L448.6 247.6"/>
<path d="M192.5 405.6L163.5 421.5Q159.4 423.6 159.4 427L159.4 471.5Q159.4 476.5 163.6 474.6L191.7 459.6"/>
<path d="M160.8 472.6L160.8 427.5Q160.8 424.8 164 423.2L192.5 407.6"/>
<ellipse cx="165.3" cy="427" rx="1.2" ry="1"/>
<ellipse cx="178.7" cy="419.6" rx="1.2" ry="1"/>
<ellipse cx="165.3" cy="461.1" rx="1.2" ry="1"/>
<ellipse cx="178.7" cy="462" rx="1.2" ry="1"/>
<ellipse cx="171.9" cy="423.6" rx="0.5" ry="0.5"/>
<ellipse cx="171.9" cy="465.8" rx="0.5" ry="0.5"/>
<path d="M192.5 405.6L192.5 410"/>
<path d="M191.7 459.6L191.7 455"/>
<path d="M195.2 406.2L195.2 417.2L184.4 423.4L179.8 430.6L179.8 445.4L183.4 452L193.2 446.4L195.6 449L195.6 458.5" stroke="#111" stroke-width="2.3" stroke-linejoin="round" stroke-linecap="butt"/>
<path d="M193.4 407L197 407" stroke="#111" stroke-width="2.2" stroke-linejoin="round" stroke-linecap="butt"/>
<path d="M193.6 451.4L197.4 451.4" stroke="#111" stroke-width="2.2" stroke-linejoin="round" stroke-linecap="butt"/>
<path d="M171.9 423.6L227.8 455.4L262 436.5"/>
<path d="M232.8 371.4L232.8 386.8" stroke="#111" stroke-width="3.2" stroke-linejoin="round" stroke-linecap="butt"/>
<path d="M118.3 284.8L30 331L163.4 416.8"/>
<path d="M290.8 461.5L295.8 454.8L555.3 304.5L580.4 319.2L581.9 333L585.2 336.8L585.2 359L580.6 368.2L320.3 517.8L293.1 504.4L293.1 489L290.8 488Z" fill="#fff" stroke="none"/>
<path d="M290.8 462L290.8 461Q291 459.5 292.5 458.2L294.6 455.4Q295.6 454.3 297 454.1L554 305.2Q555.6 304.2 557.3 305.2L580.4 319.2"/>
<path d="M290.8 461.5L290.8 488.2L293.1 489.4L293.1 503Q293.1 505 295.5 506.2L318 517Q320.3 518.4 320.3 515.5"/>
<path d="M290.8 461.5L320.3 470.6L320.3 516"/>
<path d="M292.3 459L321.8 468.4"/>
<ellipse cx="302.6" cy="480.2" rx="7.4" ry="9.8" transform="rotate(-10 302.6 480.2)"/>
<path d="M299.5 471.5Q305.5 478 305 489.2" stroke-width="0.8"/>
<path d="M290.8 489L316 501.9L316 472.6" stroke-width="0.9"/>
<path d="M318.6 471L318.6 516.6" stroke-width="0.8"/>
<path d="M326 483.2L337.5 476.6Q339.5 475.8 341 477L352 484.4" stroke-width="0.9"/>
<path d="M329.2 486.4Q327 488 329 490.2L333 492.4Q336 493.6 339 491.6L343 488.6Q344.6 486.6 342.4 485.2L338.4 483.2Q336 482.4 333.6 483.6Z" stroke-width="0.9"/>
<path d="M326 483.2L324.8 488L340.4 500L351.6 493.6" stroke-width="0.9"/>
<ellipse cx="293.8" cy="466" rx="1" ry="1.1"/>
<ellipse cx="311.9" cy="476" rx="1" ry="1.1"/>
<ellipse cx="293.8" cy="486.5" rx="1" ry="1.1"/>
<ellipse cx="311.9" cy="496.5" rx="1" ry="1.1"/>
<path d="M320.3 516L320.3 517.8L580.6 368.2L585.2 359L585.2 336.8L581.9 333L580.4 319.2"/>
<path d="M320 470.2L322 466.8L576.4 322.8"/>
<path d="M322 470.2L334.2 463.3A2.4 2.4 0 0 0 338.4 460.9L351.6 453.4A2.4 2.4 0 0 0 355.8 451.1L369.3 443.4A2.4 2.4 0 0 0 373.5 441.1L394.8 429A2.4 2.4 0 0 0 399 426.6L420.6 414.4A2.4 2.4 0 0 0 424.8 412L447.5 399.2A2.4 2.4 0 0 0 451.7 396.8L473.8 384.3A2.4 2.4 0 0 0 478 381.9L499.9 369.5A2.4 2.4 0 0 0 504.1 367.1L526 354.7A2.4 2.4 0 0 0 530.2 352.4L544.1 344.5A2.4 2.4 0 0 0 548.3 342.1L561.8 334.5A2.4 2.4 0 0 0 566 332.1L578.1 325.2"/>
<ellipse cx="336.3" cy="460.8" rx="1.1" ry="0.9" transform="rotate(-30 336.3 460.8)"/>
<ellipse cx="353.7" cy="451" rx="1.1" ry="0.9" transform="rotate(-30 353.7 451)"/>
<ellipse cx="371.4" cy="440.9" rx="1.1" ry="0.9" transform="rotate(-30 371.4 440.9)"/>
<ellipse cx="396.9" cy="426.5" rx="1.1" ry="0.9" transform="rotate(-30 396.9 426.5)"/>
<ellipse cx="422.7" cy="411.9" rx="1.1" ry="0.9" transform="rotate(-30 422.7 411.9)"/>
<ellipse cx="449.6" cy="396.7" rx="1.1" ry="0.9" transform="rotate(-30 449.6 396.7)"/>
<ellipse cx="475.9" cy="381.8" rx="1.1" ry="0.9" transform="rotate(-30 475.9 381.8)"/>
<ellipse cx="502" cy="367" rx="1.1" ry="0.9" transform="rotate(-30 502 367)"/>
<ellipse cx="528.1" cy="352.2" rx="1.1" ry="0.9" transform="rotate(-30 528.1 352.2)"/>
<ellipse cx="546.2" cy="342" rx="1.1" ry="0.9" transform="rotate(-30 546.2 342)"/>
<ellipse cx="563.9" cy="332" rx="1.1" ry="0.9" transform="rotate(-30 563.9 332)"/>
<path d="M325.5 478.5L557 347.6"/>
<path d="M325.5 511L334.3 506A2.3 2.3 0 0 1 338.3 503.7L351.8 495.9A2.3 2.3 0 0 1 355.8 493.6L369.3 485.9A2.3 2.3 0 0 1 373.3 483.6L394.8 471.3A2.3 2.3 0 0 1 398.8 469L420.8 456.3A2.3 2.3 0 0 1 424.8 454.1L447.3 441.1A2.3 2.3 0 0 1 451.3 438.9L473.8 425.9A2.3 2.3 0 0 1 477.8 423.7L499.8 411A2.3 2.3 0 0 1 503.8 408.7L525.8 396.1A2.3 2.3 0 0 1 529.8 393.8L544.3 385.5A2.3 2.3 0 0 1 548.3 383.2L561.8 375.5A2.3 2.3 0 0 1 565.8 373.2L578.7 365.8"/>
<ellipse cx="336.3" cy="506.7" rx="1.1" ry="0.9" transform="rotate(-30 336.3 506.7)"/>
<ellipse cx="353.8" cy="496.7" rx="1.1" ry="0.9" transform="rotate(-30 353.8 496.7)"/>
<ellipse cx="371.3" cy="486.6" rx="1.1" ry="0.9" transform="rotate(-30 371.3 486.6)"/>
<ellipse cx="396.8" cy="472" rx="1.1" ry="0.9" transform="rotate(-30 396.8 472)"/>
<ellipse cx="422.8" cy="457.1" rx="1.1" ry="0.9" transform="rotate(-30 422.8 457.1)"/>
<ellipse cx="449.3" cy="441.9" rx="1.1" ry="0.9" transform="rotate(-30 449.3 441.9)"/>
<ellipse cx="475.8" cy="426.7" rx="1.1" ry="0.9" transform="rotate(-30 475.8 426.7)"/>
<ellipse cx="501.8" cy="411.8" rx="1.1" ry="0.9" transform="rotate(-30 501.8 411.8)"/>
<ellipse cx="527.8" cy="396.9" rx="1.1" ry="0.9" transform="rotate(-30 527.8 396.9)"/>
<ellipse cx="546.3" cy="386.3" rx="1.1" ry="0.9" transform="rotate(-30 546.3 386.3)"/>
<ellipse cx="563.8" cy="376.2" rx="1.1" ry="0.9" transform="rotate(-30 563.8 376.2)"/>
<path d="M321.9 472.8L321.9 502L324 504.6L324 511L326.6 512.8"/>
<path d="M577.4 325.2L576.4 333L580 340.7L580 362.7L577.4 366"/>
<path d="M576.4 322.8Q580 320.6 580.6 320"/>
<ellipse cx="577.6" cy="332.4" rx="1.1" ry="1"/>
<ellipse cx="581.6" cy="366.5" rx="1.1" ry="1"/>
<ellipse cx="320.6" cy="470.9" rx="1.1" ry="1"/>
<ellipse cx="322.5" cy="514.2" rx="1.1" ry="1"/>
<path d="M346.9 466.9L367.4 455.2" stroke-width="0.8"/>
<path d="M349.2 468.9L369.7 457.2" stroke-width="0.8"/>
<path d="M352.4 471.4L372.9 459.8" stroke-width="0.8"/>
<path d="M372.2 479L392.7 467.2" stroke-width="0.8"/>
<path d="M340.3 470.4L368 486.9L374.2 483.4L346.5 466.9C342.9 464.8 336.7 468.3 340.3 470.4Z" fill="#fff"/>
<path d="M373.1 452.1L393.6 440.4" stroke-width="0.8"/>
<path d="M375.3 454L395.8 442.3" stroke-width="0.8"/>
<path d="M378.5 456.6L399 444.9" stroke-width="0.8"/>
<path d="M398.3 464.1L418.8 452.3" stroke-width="0.8"/>
<path d="M366.4 455.6L394.1 472L400.3 468.5L372.6 452.1C369 449.9 362.8 453.4 366.4 455.6Z" fill="#fff"/>
<path d="M399.1 437.1L419.6 425.4" stroke-width="0.8"/>
<path d="M401.4 439.1L421.9 427.4" stroke-width="0.8"/>
<path d="M404.6 441.6L425.1 429.9" stroke-width="0.8"/>
<path d="M424.4 449.2L444.9 437.4" stroke-width="0.8"/>
<path d="M392.5 440.6L420.2 457.1L426.4 453.6L398.7 437.1C395.1 435 388.9 438.5 392.5 440.6Z" fill="#fff"/>
<path d="M425.2 422.2L445.8 410.6" stroke-width="0.8"/>
<path d="M427.5 424.2L448 412.5" stroke-width="0.8"/>
<path d="M430.7 426.8L451.2 415.1" stroke-width="0.8"/>
<path d="M450.5 434.3L471 422.5" stroke-width="0.8"/>
<path d="M418.6 425.8L446.3 442.2L452.5 438.7L424.8 422.2C421.2 420.1 415 423.6 418.6 425.8Z" fill="#fff"/>
<path d="M451.3 407.3L471.8 395.6" stroke-width="0.8"/>
<path d="M453.6 409.3L474.1 397.6" stroke-width="0.8"/>
<path d="M456.8 411.8L477.2 400.1" stroke-width="0.8"/>
<path d="M476.6 419.4L497.1 407.6" stroke-width="0.8"/>
<path d="M444.7 410.8L472.4 427.3L478.6 423.8L450.9 407.3C447.3 405.2 441.1 408.7 444.7 410.8Z" fill="#fff"/>
<path d="M477.4 392.4L497.9 380.8" stroke-width="0.8"/>
<path d="M479.7 394.4L500.2 382.7" stroke-width="0.8"/>
<path d="M482.9 396.9L503.4 385.2" stroke-width="0.8"/>
<path d="M502.7 404.5L523.2 392.7" stroke-width="0.8"/>
<path d="M470.8 395.9L498.5 412.4L504.7 408.9L477 392.4C473.4 390.3 467.2 393.8 470.8 395.9Z" fill="#fff"/>
<path d="M503.6 377.5L524.1 365.8" stroke-width="0.8"/>
<path d="M505.8 379.5L526.3 367.8" stroke-width="0.8"/>
<path d="M509 382L529.5 370.3" stroke-width="0.8"/>
<path d="M528.8 389.6L549.3 377.8" stroke-width="0.8"/>
<path d="M496.9 381L524.6 397.5L530.8 394L503.1 377.5C499.5 375.4 493.3 378.9 496.9 381Z" fill="#fff"/>
<path d="M533.3 359.9L561 376.4L567.2 372.9L539.5 356.4C535.9 354.3 529.7 357.8 533.3 359.9Z" fill="#fff"/>
<path d="M546.3 350.8L570.5 365.2L576.7 361.7L552.5 347.2C548.9 345.1 542.7 348.6 546.3 350.8Z" fill="#fff"/>
<path d="M350.8 482.4L350.8 486A3.6 2.6 0 0 0 358 486L358 482.4" fill="#fff"/>
<ellipse cx="354.4" cy="482.4" rx="3.6" ry="2.6" fill="#fff"/>
<ellipse cx="354.4" cy="482.4" rx="2.3" ry="1.6" stroke-width="0.8"/>
<path d="M373.5 469.7L373.5 473.3A3.6 2.6 0 0 0 380.7 473.3L380.7 469.7" fill="#fff"/>
<ellipse cx="377.1" cy="469.7" rx="3.6" ry="2.6" fill="#fff"/>
<ellipse cx="377.1" cy="469.7" rx="2.3" ry="1.6" stroke-width="0.8"/>
<path d="M398.5 454.6L398.5 458.2A3.6 2.6 0 0 0 405.7 458.2L405.7 454.6" fill="#fff"/>
<ellipse cx="402.1" cy="454.6" rx="3.6" ry="2.6" fill="#fff"/>
<ellipse cx="402.1" cy="454.6" rx="2.3" ry="1.6" stroke-width="0.8"/>
<path d="M424.6 439.5L424.6 443.1A3.6 2.6 0 0 0 431.8 443.1L431.8 439.5" fill="#fff"/>
<ellipse cx="428.2" cy="439.5" rx="3.6" ry="2.6" fill="#fff"/>
<ellipse cx="428.2" cy="439.5" rx="2.3" ry="1.6" stroke-width="0.8"/>
<path d="M450.7 425.4L450.7 429A3.6 2.6 0 0 0 457.9 429L457.9 425.4" fill="#fff"/>
<ellipse cx="454.3" cy="425.4" rx="3.6" ry="2.6" fill="#fff"/>
<ellipse cx="454.3" cy="425.4" rx="2.3" ry="1.6" stroke-width="0.8"/>
<path d="M476.8 410.3L476.8 413.9A3.6 2.6 0 0 0 484 413.9L484 410.3" fill="#fff"/>
<ellipse cx="480.4" cy="410.3" rx="3.6" ry="2.6" fill="#fff"/>
<ellipse cx="480.4" cy="410.3" rx="2.3" ry="1.6" stroke-width="0.8"/>
<path d="M503.4 394.9L503.4 398.5A3.6 2.6 0 0 0 510.6 398.5L510.6 394.9" fill="#fff"/>
<ellipse cx="507" cy="394.9" rx="3.6" ry="2.6" fill="#fff"/>
<ellipse cx="507" cy="394.9" rx="2.3" ry="1.6" stroke-width="0.8"/>
<path d="M526.9 380.6L526.9 384.2A3.6 2.6 0 0 0 534.1 384.2L534.1 380.6" fill="#fff"/>
<ellipse cx="530.5" cy="380.6" rx="3.6" ry="2.6" fill="#fff"/>
<ellipse cx="530.5" cy="380.6" rx="2.3" ry="1.6" stroke-width="0.8"/>
<ellipse cx="565.7" cy="345.1" rx="6.4" ry="9.6" fill="#fff" transform="rotate(-12 565.7 345.1)"/>
<path d="M562 336.6Q568.6 343 570 352" stroke-width="0.9"/>
<path d="M322.7 437.8L330.3 433.6L337.9 437.8L330.3 442.2Z" fill="#fff"/>
<path d="M322.7 437.8L322.7 439.4L330.3 443.8L337.9 439.4" fill="#fff"/>
<path d="M337.9 439.4L337.9 437.8"/>
<ellipse cx="330.3" cy="437.8" rx="1.6" ry="1.2"/>
<path d="M404.5 389.6L412.1 385.4L419.7 389.6L412.1 394Z" fill="#fff"/>
<path d="M404.5 389.6L404.5 391.2L412.1 395.6L419.7 391.2" fill="#fff"/>
<path d="M419.7 391.2L419.7 389.6"/>
<ellipse cx="412.1" cy="389.6" rx="1.6" ry="1.2"/>
<path d="M526.3 319.8L533.9 315.6L541.5 319.8L533.9 324.2Z" fill="#fff"/>
<path d="M526.3 319.8L526.3 321.4L533.9 325.8L541.5 321.4" fill="#fff"/>
<path d="M541.5 321.4L541.5 319.8"/>
<ellipse cx="533.9" cy="319.8" rx="1.6" ry="1.2"/>
<path d="M474.4 428.6L474.4 455.5"/>
<ellipse cx="257.6" cy="508" rx="9.4" ry="13.8" stroke-width="1.3" transform="rotate(-22 257.6 508)"/>
<ellipse cx="273.4" cy="497.3" rx="5.8" ry="8" stroke-width="1.3" transform="rotate(-15 273.4 497.3)"/>
<ellipse cx="278" cy="496.3" rx="5.8" ry="8" stroke-width="1.3" transform="rotate(-15 278 496.3)"/>
<ellipse cx="612.3" cy="317.8" rx="8.6" ry="13" stroke-width="1.3" transform="rotate(-20 612.3 317.8)"/>
<ellipse cx="592.5" cy="327.5" rx="5.4" ry="7.6" stroke-width="1.3" transform="rotate(-15 592.5 327.5)"/>
<ellipse cx="597.3" cy="326.2" rx="5.4" ry="7.6" stroke-width="1.3" transform="rotate(-15 597.3 326.2)"/>
<path d="M561.2 259.7L527.2 305.1"/>
<path d="M561.2 259.7L588.8 321"/>
<path d="M561.2 259.7L596.6 319.4"/>
<path d="M561.2 259.7L608.5 306.1"/>
<path d="M283.2 554.1L265.4 521.8"/>
<path d="M283.2 554.1L273.9 505.4"/>
<path d="M283.2 554.1L283.4 503.4"/>
<path d="M275.5 437.6L297.2 449.4"/>
<path d="M275.5 437.6L278.6 438L277.4 440Z" stroke-width="0.5" fill="#222"/>
<path d="M217.2 510.2L291.1 468.6"/>
<path d="M280.3 481.5L289 477.2" stroke-width="0.8"/>
<path d="M227 514.6L234.3 510.8Q239.3 510.6 241.8 516.3Q243.8 522.8 241.4 528.7L234 533" fill="#fff"/>
<path d="M229 512.8Q238 520 235.5 532" stroke-width="0.8"/>
<path d="M230.6 511.9Q239.6 519.1 237.1 531.1" stroke-width="0.8"/>
<path d="M232.1 511Q241.1 518.2 238.6 530.2" stroke-width="0.8"/>
<path d="M233.7 510.1Q242.7 517.3 240.2 529.3" stroke-width="0.8"/>
<path d="M235.3 509.2Q244.3 516.4 241.8 528.4" stroke-width="0.8"/>
<path d="M211 509.9Q211 507.4 213.2 508.6L232.8 519.7Q235 520.9 235 523.4L235 544.1Q235 546.6 232.8 545.4L213.2 534.4Q211 533.2 211 530.7Z" fill="#fff"/>
<path d="M208.5 511.5Q208.5 509 210.7 510.2L230.2 521.2Q232.4 522.4 232.4 524.9L232.4 545.5Q232.4 548 230.2 546.8L210.7 535.8Q208.5 534.6 208.5 532.1Z" fill="#fff"/>
<ellipse cx="220.4" cy="528.5" rx="4.8" ry="6.2" transform="rotate(-8 220.4 528.5)"/>
<path d="M218.6 523Q222.6 527.5 222.4 534.4" stroke-width="0.8"/>
<ellipse cx="211.4" cy="514" rx="1" ry="1.2"/>
<ellipse cx="229.4" cy="524.2" rx="1" ry="1.2"/>
<ellipse cx="211.4" cy="534.6" rx="1" ry="1.2"/>
<ellipse cx="229.4" cy="544" rx="1" ry="1.2"/>
<path d="M631.2 283.2Q631.2 280.2 633.9 281.5L653.9 290.9Q656.6 292.2 656.6 295.2L656.6 315Q656.6 318 654 316.6L633.8 305.8Q631.2 304.4 631.2 301.4Z" fill="#fff"/>
<path d="M628.7 284.7Q628.7 281.7 631.4 283L651.4 292.4Q654.1 293.7 654.1 296.7L654.1 316.8Q654.1 319.8 651.5 318.4L631.3 307.4Q628.7 306 628.7 303Z" fill="#fff"/>
<ellipse cx="631.2" cy="285.6" rx="1.1" ry="1.3"/>
<ellipse cx="650.4" cy="295.4" rx="1.1" ry="1.3"/>
<ellipse cx="650.4" cy="315.6" rx="1.1" ry="1.3"/>
<ellipse cx="631.4" cy="303.4" rx="1.1" ry="1.3"/>
<ellipse cx="641.2" cy="301.4" rx="7" ry="10.4" fill="#fff" transform="rotate(-10 641.2 301.4)"/>
<ellipse cx="640.4" cy="301.8" rx="5.8" ry="9.2" fill="#fff" transform="rotate(-10 640.4 301.8)"/>
<path d="M634.7 291.3L621.8 300.6Q619 306 621.5 313Q624.5 320 630.4 319.6L643 312.4" fill="#fff"/>
<path d="M625 298.6Q634.5 308 632.6 318.6" stroke-width="0.8"/>
<path d="M626.9 297.4Q636.4 306.8 634.5 317.4" stroke-width="0.8"/>
<path d="M628.8 296.2Q638.3 305.6 636.4 316.2" stroke-width="0.8"/>
<path d="M630.7 295Q640.2 304.4 638.3 315" stroke-width="0.8"/>
<path d="M632.7 293.8Q642.2 303.2 640.3 313.8" stroke-width="0.8"/>
<path d="M634.6 292.6Q644.1 301.9 642.2 312.6" stroke-width="0.8"/>
<ellipse cx="626.9" cy="310.1" rx="6.4" ry="9.5" fill="#fff" transform="rotate(-10 626.9 310.1)"/>
<ellipse cx="626.9" cy="310.3" rx="4.8" ry="7.8" transform="rotate(-10 626.9 310.3)"/>
<path d="M399.1 83.2L406.5 79.4L409 80.6L409 86.6"/>
<path d="M406.5 79.4L406.5 84"/>
<path d="M399.1 83.2L416.9 93.2L416.9 120.8L399.1 111.3Z" fill="#fff"/>
<path d="M416.9 93.2L419.6 92L419.6 120L416.9 120.8"/>
<ellipse cx="401.9" cy="89.8" rx="0.6" ry="0.6" fill="#222"/>
<ellipse cx="410" cy="105.3" rx="0.6" ry="0.6" fill="#222"/>
<ellipse cx="413.4" cy="115.2" rx="0.6" ry="0.6" fill="#222"/>
<path d="M422 98.7L430.6 94.1L451.3 105.3L453.6 104.2"/>
</g>
<g>
<text x="552.5" y="23" font-size="13.6" textLength="128.5" lengthAdjust="spacing">海水空气冷却器规格</text>
<text x="458.8" y="181.4" font-size="12.4" textLength="234" lengthAdjust="spacingAndGlyphs">冷却器芯和板的接合面用信越化学生产的</text>
<text x="459" y="194.4" font-size="12.4" textLength="224.5" lengthAdjust="spacingAndGlyphs">KE45-W或相当的硅系密封胶密封 (2处)</text>
<text x="578.5" y="254.1" font-size="13" text-anchor="middle">更换</text>
<text x="119.5" y="369.4" font-size="13" text-anchor="middle">更换</text>
<text x="300.4" y="568.9" font-size="13" text-anchor="middle">更换</text>
<text x="343.6" y="593.6" font-size="13" text-anchor="middle">更换</text>
<text x="228.6" y="119.9" font-size="12" text-anchor="middle">1</text>
<text x="280.6" y="158" font-size="8" text-anchor="middle">c</text>
<text x="331.1" y="293.5" font-size="12" text-anchor="middle">2</text>
<text x="474.6" y="469" font-size="12" text-anchor="middle">3</text>
</g>
</svg>
</body></html>
